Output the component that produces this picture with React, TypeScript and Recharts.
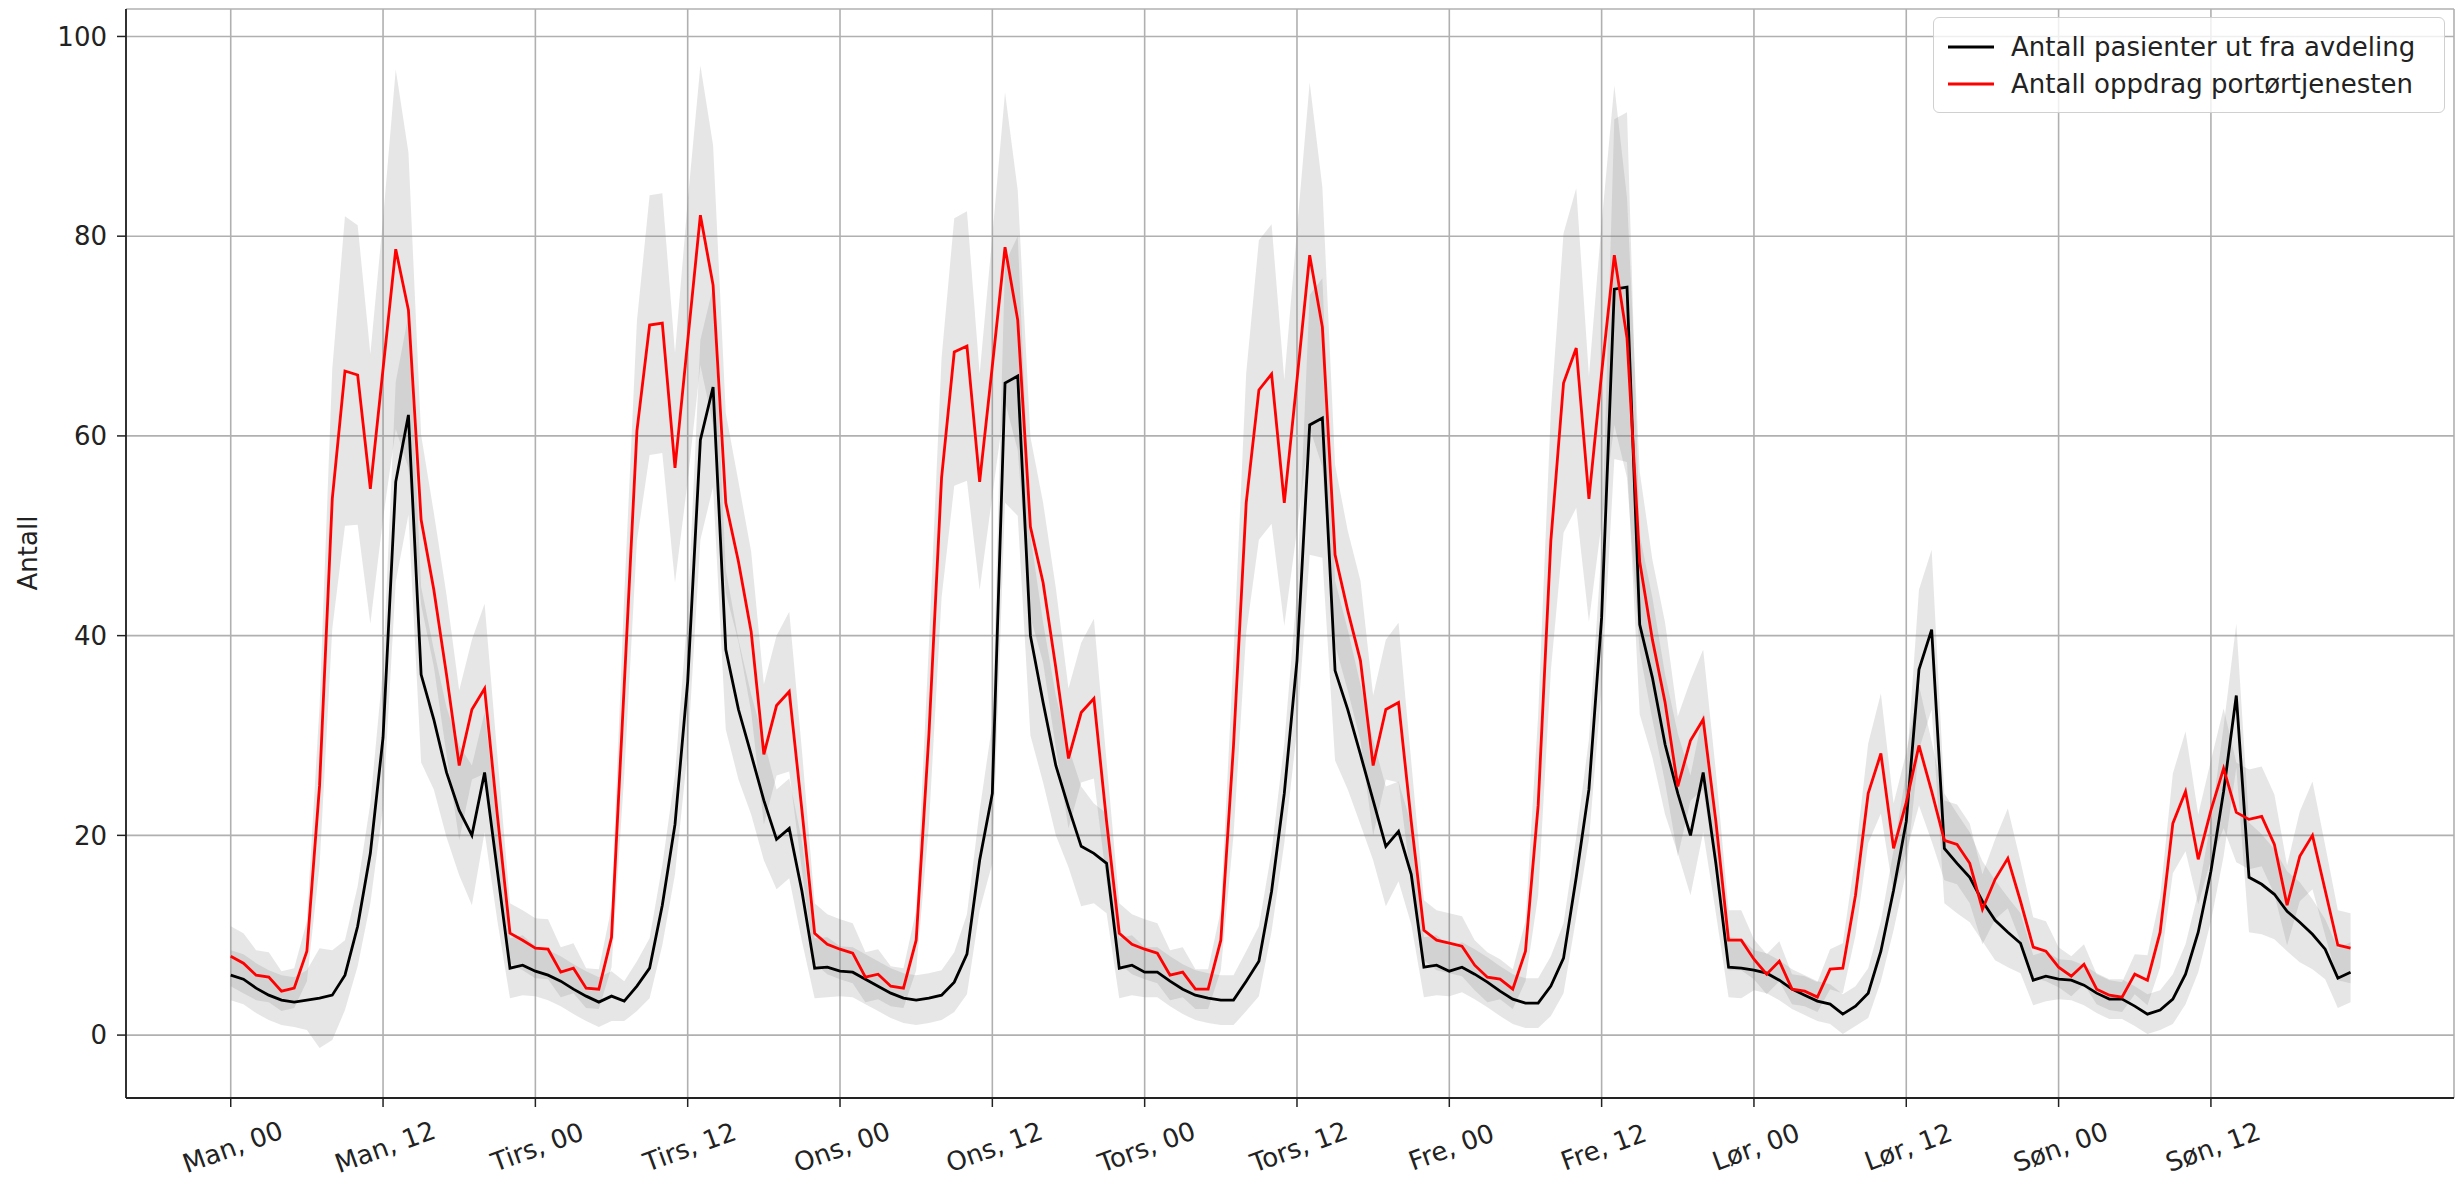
import React from 'react';
import { ComposedChart, Line, Area, XAxis, YAxis, CartesianGrid } from 'recharts';

// hourly averages, Monday 00 -> Sunday 23
const patients = [
  6.0, 5.6, 4.7, 4.0, 3.5, 3.3, 3.5, 3.7, 4.0, 6.0, 10.9, 18.2, 29.8, 55.4, 62.1, 36.1, 31.6, 26.3, 22.5, 20.0, 26.3, 16.5, 6.7, 7.0,
  6.4, 6.0, 5.4, 4.6, 3.9, 3.3, 3.9, 3.4, 4.9, 6.7, 13.0, 21.1, 35.4, 59.6, 64.9, 38.6, 32.6, 28.1, 23.5, 19.6, 20.7, 14.4, 6.7, 6.8,
  6.4, 6.3, 5.6, 4.9, 4.2, 3.7, 3.5, 3.7, 4.0, 5.3, 8.1, 17.5, 24.2, 65.3, 66.0, 40.0, 33.3, 27.0, 22.8, 18.9, 18.2, 17.2, 6.7, 7.0,
  6.3, 6.3, 5.4, 4.6, 4.0, 3.7, 3.5, 3.5, 5.4, 7.4, 14.4, 24.2, 37.5, 61.1, 61.8, 36.5, 32.6, 28.1, 23.5, 18.9, 20.4, 16.1, 6.8, 7.0,
  6.4, 6.8, 6.1, 5.3, 4.4, 3.6, 3.2, 3.2, 4.9, 7.7, 15.8, 24.6, 41.8, 74.7, 74.9, 41.1, 35.8, 29.1, 24.2, 20.0, 26.3, 17.2, 6.8, 6.7,
  6.5, 6.2, 5.5, 4.6, 4.0, 3.4, 3.1, 2.1, 2.9, 4.2, 8.4, 14.5, 21.4, 36.6, 40.6, 18.7, 17.2, 15.8, 13.4, 11.5, 10.3, 9.2, 5.5, 5.9,
  5.6, 5.5, 5.0, 4.2, 3.6, 3.6, 2.9, 2.1, 2.5, 3.6, 6.1, 10.3, 16.4, 24.4, 34.0, 15.8, 15.1, 14.1, 12.4, 11.3, 10.1, 8.6, 5.7, 6.3,
];

const porterJobs = [
  7.9, 7.2, 6.0, 5.8, 4.4, 4.7, 8.4, 25.0, 53.7, 66.5, 66.1, 54.7, 66.7, 78.7, 72.6, 51.6, 44.6, 36.1, 27.0, 32.6, 34.7, 22.1, 10.2, 9.5,
  8.7, 8.6, 6.3, 6.7, 4.7, 4.6, 9.8, 35.0, 60.5, 71.1, 71.3, 56.8, 69.5, 82.1, 75.1, 53.3, 47.4, 40.4, 28.1, 33.0, 34.4, 22.5, 10.2, 9.1,
  8.6, 8.2, 5.8, 6.1, 4.9, 4.7, 9.5, 30.0, 55.8, 68.4, 69.0, 55.4, 67.0, 78.9, 71.6, 50.9, 45.3, 36.8, 27.7, 32.3, 33.7, 21.4, 10.2, 9.1,
  8.6, 8.2, 6.0, 6.3, 4.6, 4.6, 9.5, 29.0, 53.3, 64.6, 66.2, 53.3, 65.6, 78.1, 70.9, 48.1, 42.5, 37.5, 27.0, 32.6, 33.3, 21.4, 10.5, 9.5,
  9.2, 8.9, 7.0, 5.8, 5.6, 4.6, 8.4, 23.0, 49.5, 65.3, 68.8, 53.7, 66.3, 78.1, 69.8, 47.4, 39.6, 33.3, 24.9, 29.5, 31.6, 21.4, 9.5, 9.5,
  7.6, 6.1, 7.4, 4.6, 4.4, 3.8, 6.6, 6.7, 14.0, 24.2, 28.2, 18.7, 23.3, 29.0, 24.4, 19.5, 19.1, 17.2, 12.6, 15.6, 17.7, 13.4, 8.8, 8.4,
  6.8, 5.9, 7.1, 4.6, 4.0, 3.8, 6.1, 5.5, 10.3, 21.2, 24.4, 17.6, 22.5, 26.7, 22.3, 21.6, 21.9, 19.1, 13.0, 17.9, 20.0, 14.5, 9.0, 8.7,
];

// half-width of the shaded bands
const patientsSpread = [
  2.5, 2.5, 2.5, 2.5, 2.5, 2.5, 3, 5, 4.5, 3.5, 4, 5, 7, 10, 10, 8.8, 7, 6.5, 6.5, 7, 6, 5, 3, 3,
  2.5, 2.5, 2.5, 2.5, 2.5, 2.5, 2.5, 2, 2.5, 3, 4, 5, 7, 10, 10, 8, 7, 6, 6, 5, 5, 5, 3, 3,
  2.5, 2.5, 2.5, 2.5, 2.5, 2.5, 2.5, 2.5, 2.5, 3, 4, 5, 7, 12, 14, 10, 8, 7, 6, 6, 5, 5, 3, 3,
  2.5, 2.5, 2.5, 2.5, 2.5, 2.5, 2.5, 2.5, 3, 3.5, 4, 5, 7, 13, 14, 9, 8, 7, 6, 6, 5, 5, 3, 3,
  2.5, 2.5, 2.5, 2.5, 2.5, 2.5, 2.5, 2.5, 3, 3.5, 4, 5, 7, 17, 17.5, 9, 8, 7, 6, 6, 6, 5, 3, 3,
  2, 2, 2, 2, 2, 2, 2, 2, 2, 2.5, 3, 4, 5, 8, 8, 5.5, 5, 4.5, 4, 4, 3.5, 3, 2.5, 2.5,
  2, 2, 2, 2, 2, 2, 2, 2, 2, 2.5, 3, 4, 5, 6.5, 7.2, 5.5, 5, 4.5, 4, 4, 3.5, 3, 3, 3,
];

const porterSpread = [
  3, 3, 2.5, 2.5, 2, 2, 3, 8, 13, 15.5, 15, 13.5, 15, 18, 15.8, 8.5, 7.7, 8, 7.5, 7, 8.5, 6, 3, 3,
  3, 3, 2.5, 2.5, 2, 2, 3, 9, 11, 13, 13, 11.5, 14, 15, 14, 9, 8, 8, 7, 7, 8, 6, 3, 3,
  3, 3, 2.5, 2.5, 2, 2, 3, 9, 12, 13.4, 13.5, 10.8, 13, 15.5, 13, 9, 8, 8, 7, 7, 8, 6, 3, 3,
  3, 3, 2.5, 2.5, 2, 2, 3, 9, 13, 15, 15, 12.3, 15, 17.3, 14, 9, 8, 8, 7, 7, 8, 6, 3, 3,
  3, 3, 2.5, 2.5, 2, 2, 3, 9, 13, 15, 16, 12.3, 15, 17, 14, 9, 8, 8, 7, 6, 7, 5, 3, 3,
  2, 2, 2, 1.5, 1.5, 1.5, 2, 2.5, 4, 5, 6, 4.5, 5, 6, 5, 4, 4, 4, 3.5, 4, 5, 4, 3, 3,
  2, 2, 2, 1.5, 1.5, 1.5, 2, 2.5, 3.5, 5, 6, 4.5, 5, 6, 5, 5, 5, 5, 4, 4.5, 5.4, 4.5, 3.5, 3.5,
];

const tickHours = [0, 12, 24, 36, 48, 60, 72, 84, 96, 108, 120, 132, 144, 156];
const tickLabels = [
  'Man, 00', 'Man, 12', 'Tirs, 00', 'Tirs, 12', 'Ons, 00', 'Ons, 12', 'Tors, 00',
  'Tors, 12', 'Fre, 00', 'Fre, 12', 'Lør, 00', 'Lør, 12', 'Søn, 00', 'Søn, 12',
];
const yTicks = [0, 20, 40, 60, 80, 100];

const FONT = '"DejaVu Sans", sans-serif';
const INK = '#222';

const data = patients.map((v, i) => ({
  hour: i,
  patients: v,
  porter: porterJobs[i],
  patientsBand: [v - patientsSpread[i], v + patientsSpread[i]],
  porterBand: [porterJobs[i] - porterSpread[i], porterJobs[i] + porterSpread[i]],
}));

const XTick = ({ x, y, payload }: any) => {
  const label = tickLabels[tickHours.indexOf(payload.value)];
  const cx = x + 2;
  const cy = y + 38;
  return (
    <text
      x={cx}
      y={cy}
      transform={`rotate(-20, ${cx}, ${cy})`}
      textAnchor="middle"
      dominantBaseline="central"
      fontSize={26}
      fontFamily={FONT}
      fill={INK}
    >
      {label}
    </text>
  );
};

const legendItems = [
  { label: 'Antall pasienter ut fra avdeling', color: '#000000' },
  { label: 'Antall oppdrag portørtjenesten', color: '#ff0000' },
];

export default function App() {
  return (
    <div style={{ position: 'absolute', left: 0, top: 0, width: 2458, height: 1181, background: '#fff' }}>
      <ComposedChart width={2458} height={1181} data={data} margin={{ top: 9, right: 4, bottom: 0, left: 0 }}>
        <CartesianGrid stroke="#b0b0b0" strokeWidth={1.6} />
        <XAxis
          dataKey="hour"
          type="number"
          domain={[-8.25, 175.15]}
          ticks={tickHours}
          interval={0}
          allowDataOverflow
          height={83}
          tickSize={9}
          tick={<XTick />}
          axisLine={{ stroke: INK, strokeWidth: 1.8 }}
          tickLine={{ stroke: INK, strokeWidth: 1.5 }}
        />
        <XAxis
          xAxisId="top"
          orientation="top"
          type="number"
          domain={[-8.25, 175.15]}
          height={0}
          tick={false}
          tickLine={false}
          axisLine={{ stroke: INK, strokeWidth: 1.8 }}
        />
        <YAxis
          type="number"
          domain={[-6.3, 102.75]}
          ticks={yTicks}
          interval={0}
          allowDataOverflow
          width={126}
          tickSize={9}
          tickMargin={10}
          tick={{ fontSize: 26, fill: INK, fontFamily: FONT }}
          axisLine={{ stroke: INK, strokeWidth: 1.8 }}
          tickLine={{ stroke: INK, strokeWidth: 1.5 }}
        />
        <YAxis
          yAxisId="right"
          orientation="right"
          width={0}
          domain={[0, 1]}
          tick={false}
          tickLine={false}
          axisLine={{ stroke: INK, strokeWidth: 1.8 }}
        />
        <Area
          dataKey="patientsBand"
          type="linear"
          stroke="none"
          fill="#808080"
          fillOpacity={0.2}
          isAnimationActive={false}
          activeDot={false}
        />
        <Area
          dataKey="porterBand"
          type="linear"
          stroke="none"
          fill="#808080"
          fillOpacity={0.2}
          isAnimationActive={false}
          activeDot={false}
        />
        <Line
          dataKey="patients"
          type="linear"
          stroke="#000000"
          strokeWidth={2.8}
          dot={false}
          activeDot={false}
          isAnimationActive={false}
        />
        <Line
          dataKey="porter"
          type="linear"
          stroke="#ff0000"
          strokeWidth={2.8}
          dot={false}
          activeDot={false}
          isAnimationActive={false}
        />
      </ComposedChart>

      {/* y axis title */}
      <div
        style={{
          position: 'absolute',
          left: 28,
          top: 553,
          transform: 'translate(-50%, -50%) rotate(-90deg)',
          fontFamily: FONT,
          fontSize: 26,
          color: INK,
          whiteSpace: 'nowrap',
        }}
      >
        Antall
      </div>

      {/* legend */}
      <div
        style={{
          position: 'absolute',
          left: 1933,
          top: 17,
          width: 512,
          height: 96,
          boxSizing: 'border-box',
          padding: '10px 0 0 14px',
          background: 'rgba(255,255,255,0.8)',
          border: '1.5px solid #d0d0d0',
          borderRadius: 6,
          fontFamily: FONT,
          fontSize: 26,
          color: INK,
        }}
      >
        {legendItems.map(item => (
          <div key={item.label} style={{ display: 'flex', alignItems: 'center', height: 37 }}>
            <svg width={46} height={6} style={{ marginRight: 17 }}>
              <line x1={0} y1={3} x2={46} y2={3} stroke={item.color} strokeWidth={3} />
            </svg>
            <span style={{ whiteSpace: 'nowrap' }}>{item.label}</span>
          </div>
        ))}
      </div>
    </div>
  );
}
